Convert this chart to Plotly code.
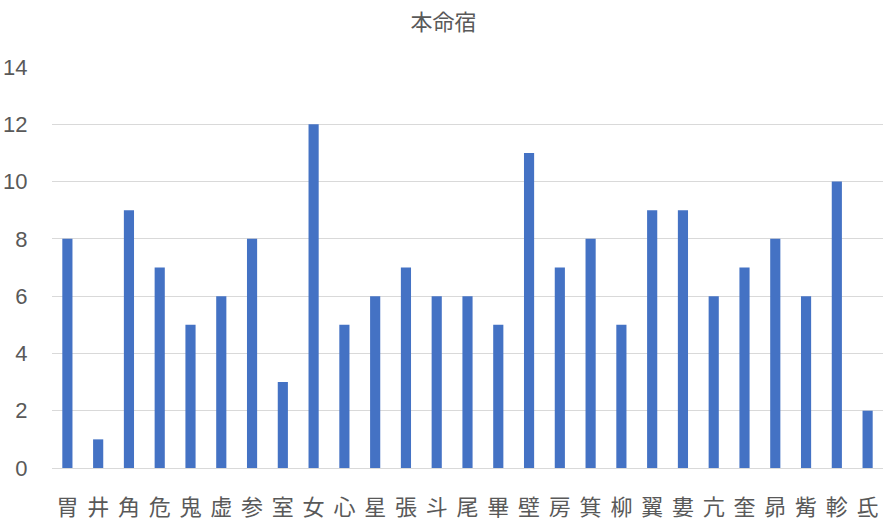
import plotly.graph_objects as go

mansions = ["胃", "井", "角", "危", "鬼", "虚", "参", "室", "女", "心", "星", "張", "斗", "尾",
            "畢", "壁", "房", "箕", "柳", "翼", "婁", "亢", "奎", "昴", "觜", "軫", "氐"]
counts = [8, 1, 9, 7, 5, 6, 8, 3, 12, 5, 6, 7, 6, 6, 5, 11, 7, 8, 5, 9, 9, 6, 7, 8, 6, 10, 2]

fig = go.Figure()
fig.add_trace(go.Bar(x=mansions, y=counts, marker_color="#4472C4", marker_line_width=0))

fig.update_layout(
    width=887, height=525,
    paper_bgcolor="white", plot_bgcolor="white",
    margin=dict(l=52, r=4, t=67, b=57, autoexpand=False),
    bargap=0.67,
    showlegend=False,
    title=dict(text="本命宿", x=0.5, xanchor="center", yref="container", y=0.958, yanchor="middle",
               font=dict(family="Noto Sans CJK JP", size=22, color="#595959")),
    font=dict(family="Noto Sans CJK JP", color="#595959"),
)
fig.update_xaxes(tickfont=dict(size=22, color="#595959"), showgrid=False,
                 showline=True, linecolor="#D9D9D9", ticks="outside", ticklen=20,
                 tickcolor="rgba(0,0,0,0)")
fig.update_yaxes(range=[0, 14], dtick=2, tickfont=dict(family="Liberation Sans", size=22, color="#595959"),
                 showgrid=True, gridcolor="#D9D9D9", zeroline=False,
                 ticks="outside", ticklen=19, tickcolor="rgba(0,0,0,0)")

# drop the page's default body margin so the figure sits at the window's corner
fig.write_html("out.html", config={"displayModeBar": False},
               post_script="document.body.style.margin='0';")
